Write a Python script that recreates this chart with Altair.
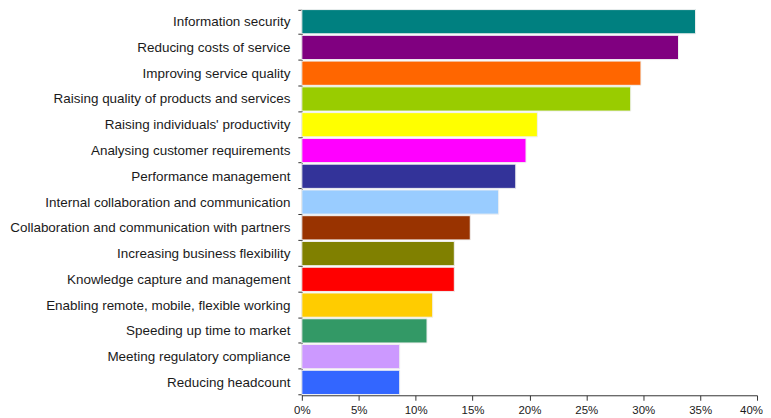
import altair as alt
import pandas as pd

categories = [
    "Information security",
    "Reducing costs of service",
    "Improving service quality",
    "Raising quality of products and services",
    "Raising individuals' productivity",
    "Analysing customer requirements",
    "Performance management",
    "Internal collaboration and communication",
    "Collaboration and communication with partners",
    "Increasing business flexibility",
    "Knowledge capture and management",
    "Enabling remote, mobile, flexible working",
    "Speeding up time to market",
    "Meeting regulatory compliance",
    "Reducing headcount",
]
values = [0.346, 0.331, 0.298, 0.289, 0.207, 0.197, 0.188, 0.173,
          0.148, 0.134, 0.134, 0.115, 0.110, 0.086, 0.086]
colors = ["#008080", "#800080", "#FF6600", "#99CC00", "#FFFF00",
          "#FF00FF", "#333399", "#99CCFF", "#993300", "#808000",
          "#FF0000", "#FFCC00", "#339966", "#CC99FF", "#3366FF"]

df = pd.DataFrame({"category": categories, "value": values})

chart = alt.Chart(df).mark_bar(stroke="#f0f0f0", strokeWidth=1, opacity=1).encode(
    y=alt.Y("category:N", sort=categories, title=None,
            scale=alt.Scale(paddingInner=0.06, paddingOuter=0.03),
            axis=alt.Axis(tickBand="extent", labelFontSize=13.5, labelColor="#1a1a1a",
                          labelFont="Liberation Sans", labelPadding=8, tickSize=4,
                          domainColor="#333333", tickColor="#333333", labelLimit=400)),
    x=alt.X("value:Q", title=None,
            scale=alt.Scale(domain=[0, 0.4], nice=False),
            axis=alt.Axis(format=".0%", values=[0, 0.05, 0.1, 0.15, 0.2, 0.25, 0.3, 0.35, 0.4],
                          grid=False, labelFontSize=11.5, labelColor="#1a1a1a",
                          labelFont="Liberation Sans", tickSize=5, labelPadding=4,
                          labelFlush=False, labelOverlap=False,
                          labelOffset={"condition": {"test": "datum.value >= 0.39", "value": -6}, "value": 0},
                          domainColor="#333333", tickColor="#333333")),
    color=alt.Color("category:N", sort=categories,
                    scale=alt.Scale(domain=categories, range=colors), legend=None),
).properties(
    width=457, height=388,
    autosize=alt.AutoSizeParams(type="none"),
    padding={"left": 295, "top": 0, "right": 6, "bottom": 20},
).configure_view(stroke=None)

chart.save("out.html", embed_options={"renderer": "svg", "actions": False})
